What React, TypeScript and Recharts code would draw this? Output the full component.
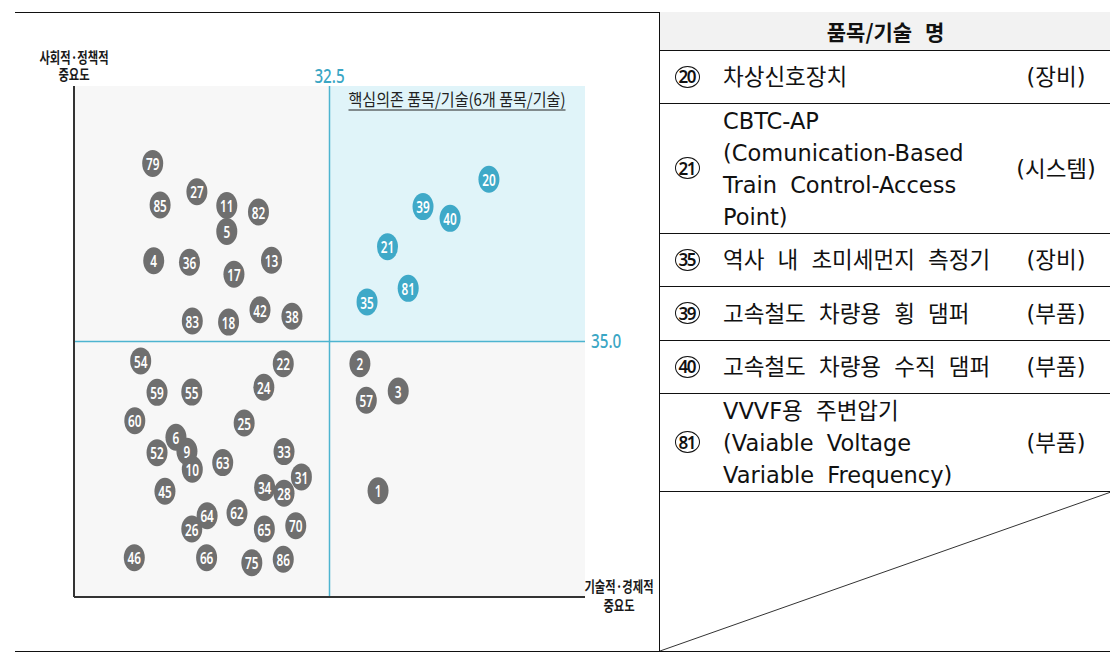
import { ScatterChart, Scatter, XAxis, YAxis, ZAxis, ReferenceArea, ReferenceLine } from 'recharts'

// item numbers and their scores (x: 기술적·경제적, y: 사회적·정책적)
const otherIds = [79, 27, 85, 11, 82, 5, 4, 36, 17, 13, 83, 18, 42, 38, 54, 22, 59, 55, 24, 60, 25, 6, 52, 9, 10, 63, 33, 31, 34, 28, 45, 26, 64, 62, 65, 70, 46, 66, 75, 86, 2, 57, 3, 1]
const otherTech = [25.58, 27.31, 25.87, 28.48, 29.72, 28.48, 25.62, 27.02, 28.76, 30.23, 27.13, 28.55, 29.78, 31.03, 25.11, 30.69, 25.75, 27.11, 29.93, 24.88, 29.16, 26.49, 25.75, 26.92, 27.13, 28.32, 30.72, 31.4, 29.96, 30.72, 26.06, 27.11, 27.71, 28.88, 29.95, 31.18, 24.86, 27.69, 29.46, 30.69, 33.69, 33.94, 35.19, 34.4]
const otherSocial = [41.97, 40.86, 40.34, 40.32, 40.07, 39.31, 38.16, 38.1, 37.63, 38.18, 35.8, 35.76, 36.24, 35.99, 34.24, 34.13, 33.01, 33.02, 33.21, 31.9, 31.81, 31.25, 30.65, 30.7, 30.0, 30.26, 30.69, 29.7, 29.29, 29.06, 29.14, 27.66, 28.18, 28.3, 27.66, 27.79, 26.54, 26.54, 26.34, 26.48, 34.13, 32.7, 33.06, 29.16]

const keyIds = [20, 39, 40, 21, 81, 35]
const keyTech = [38.74, 36.16, 37.22, 34.77, 35.58, 33.97]
const keySocial = [41.35, 40.28, 39.82, 38.71, 37.08, 36.55]

const techCut = 32.5
const socialCut = 35.0
const techDomain = [22.5, 42.5]
const socialDomain = [25, 45]

// table
const tableNumbers = [20, 21, 35, 39, 40, 81]
const tableNames = [
  ['차상신호장치'],
  ['CBTC-AP', '(Comunication-Based', 'Train Control-Access', 'Point)'],
  ['역사 내 초미세먼지 측정기'],
  ['고속철도 차량용 횡 댐퍼'],
  ['고속철도 차량용 수직 댐퍼'],
  ['VVVF용 주변압기', '(Vaiable Voltage', 'Variable Frequency)'],
]
const tableTypes = ['(장비)', '(시스템)', '(장비)', '(부품)', '(부품)', '(부품)']
const rowHeights = [53, 130, 53, 54, 53, 98]

const GRAY = '#6f6f6f'
const TEAL = '#3fa9c8'
const TEAL_LINE = '#4db4d0'
const TEAL_TEXT = '#3aa6c4'

const otherData = otherIds.map((id, i) => ({ id, x: otherTech[i], y: otherSocial[i] }))
const keyData = keyIds.map((id, i) => ({ id, x: keyTech[i], y: keySocial[i] }))

const Bubble = (props: any) => {
  const { cx, cy, payload, color } = props
  return (
    <g>
      <ellipse cx={cx} cy={cy} rx={10.5} ry={13.5} fill={color} />
      <text
        transform={`translate(${cx},${cy + 0.5}) scale(0.76,1)`}
        textAnchor="middle"
        dominantBaseline="central"
        fill="#fff"
        fontSize={15.5}
        fontWeight={600}
        fontFamily="'Noto Sans', sans-serif"
      >
        {payload.id}
      </text>
    </g>
  )
}

const condensed = "'Noto Sans CJK KR', sans-serif"

const TechCutLabel = (props: any) => {
  const { viewBox } = props
  return (
    <text
      transform={`translate(${viewBox.x},${viewBox.y - 11}) scale(0.76,1)`}
      textAnchor="middle"
      dominantBaseline="central"
      fill={TEAL_TEXT}
      fontSize={20}
      fontWeight={500}
      fontFamily="'Noto Sans', sans-serif"
    >
      {techCut.toFixed(1)}
    </text>
  )
}

const SocialCutLabel = (props: any) => {
  const { viewBox } = props
  return (
    <text
      transform={`translate(${viewBox.x + viewBox.width + 6},${viewBox.y - 1}) scale(0.76,1)`}
      textAnchor="start"
      dominantBaseline="central"
      fill={TEAL_TEXT}
      fontSize={20}
      fontWeight={500}
      fontFamily="'Noto Sans', sans-serif"
    >
      {socialCut.toFixed(1)}
    </text>
  )
}

const KeyAreaLabel = (props: any) => {
  const { viewBox } = props
  const x = viewBox.x + 19
  const y = viewBox.y + 20
  return (
    <g>
      <text x={x} y={y} fill="#222" fontSize={17} fontFamily={condensed} textLength={217} lengthAdjust="spacingAndGlyphs">
        핵심의존 품목/기술(6개 품목/기술)
      </text>
      <line x1={x} x2={x + 217} y1={y + 4} y2={y + 4} stroke="#222" strokeWidth={1} />
    </g>
  )
}

const axisTitle = (lines: string[], cx: number, top: number, gap: number) => (
  <div style={{ position: 'absolute', left: cx - 60, top, width: 120, textAlign: 'center' }}>
    {lines.map((l, i) => (
      <div
        key={i}
        style={{
          height: gap,
          lineHeight: `${gap}px`,
          fontFamily: condensed,
          fontWeight: 700,
          fontSize: 14.5,
          color: '#1a1a1a',
          transform: 'scaleX(0.78)',
          whiteSpace: 'nowrap',
        }}
      >
        {l}
      </div>
    ))}
  </div>
)

const tableFont = "'DejaVu Sans', 'Noto Sans CJK KR', sans-serif"

const CircledNumber = ({ n }: { n: number }) => (
  <div
    style={{
      position: 'absolute',
      left: 15,
      top: '50%',
      marginTop: -11.5,
      width: 23,
      height: 20,
      border: '1.3px solid #111',
      borderRadius: '50%',
      display: 'flex',
      alignItems: 'center',
      justifyContent: 'center',
      fontFamily: "'Noto Sans', sans-serif",
      fontWeight: 600,
      fontSize: 17,
      letterSpacing: -1.5,
      color: '#111',
    }}
  >
    <span style={{ marginLeft: -1.5 }}>{n}</span>
  </div>
)

const ItemTable = () => (
  <div style={{ position: 'absolute', left: 659, top: 12, width: 451, height: 639, borderLeft: '1px solid #111' }}>
    <div
      style={{
        height: 38,
        background: '#f2f2f2',
        borderBottom: '1px solid #111',
        display: 'flex',
        alignItems: 'center',
        justifyContent: 'center',
        fontFamily: "'Noto Sans CJK KR', sans-serif",
        fontWeight: 700,
        fontSize: 21,
        color: '#111',
        wordSpacing: 8,
      }}
    >
      품목/기술 명
    </div>
    {tableNumbers.map((n, i) => (
      <div key={n} style={{ position: 'relative', height: rowHeights[i] - 1, borderBottom: '1px solid #111' }}>
        <CircledNumber n={n} />
        <div
          style={{
            position: 'absolute',
            left: 63,
            top: '50%',
            transform: 'translateY(-50%)',
            fontFamily: tableFont,
            fontSize: 22.5,
            lineHeight: '32px',
            color: '#111',
            whiteSpace: 'nowrap',
            wordSpacing: 6,
          }}
        >
          {tableNames[i].map((l, j) => (
            <div key={j}>{l}</div>
          ))}
        </div>
        <div
          style={{
            position: 'absolute',
            left: 396 - 60,
            width: 120,
            textAlign: 'center',
            top: '50%',
            transform: 'translateY(-50%)',
            fontFamily: tableFont,
            fontSize: 22.5,
            lineHeight: '32px',
            color: '#111',
          }}
        >
          {tableTypes[i]}
        </div>
      </div>
    ))}
    <svg width={451} height={159} style={{ display: 'block' }}>
      <line x1={0} y1={159} x2={451} y2={0} stroke="#333" strokeWidth={1} />
    </svg>
  </div>
)

export default function App() {
  return (
    <div style={{ position: 'absolute', left: 0, top: 0, width: 1110, height: 671, background: '#fff', overflow: 'hidden' }}>
      <div style={{ position: 'absolute', left: 0, top: 0 }}>
        <ScatterChart width={659} height={671} margin={{ top: 86, right: 74, bottom: 74, left: 74 }}>
          <XAxis type="number" dataKey="x" domain={techDomain} hide />
          <YAxis type="number" dataKey="y" domain={socialDomain} hide />
          <ZAxis range={[400, 400]} />
          <ReferenceArea x1={techDomain[0]} x2={techDomain[1]} y1={socialDomain[0]} y2={socialDomain[1]} fill="#f7f7f7" fillOpacity={1} stroke="none" />
          <ReferenceArea
            x1={techCut}
            x2={techDomain[1]}
            y1={socialCut}
            y2={socialDomain[1]}
            fill="#e0f4f9"
            fillOpacity={1}
            stroke="none"
            label={KeyAreaLabel}
          />
          <ReferenceLine x={techCut} stroke={TEAL_LINE} strokeWidth={1.5} label={TechCutLabel} />
          <ReferenceLine y={socialCut} stroke={TEAL_LINE} strokeWidth={1.5} label={SocialCutLabel} />
          <ReferenceLine x={techDomain[0]} stroke="#333" strokeWidth={2} />
          <ReferenceLine y={socialDomain[0]} stroke="#333" strokeWidth={2} />
          <Scatter data={otherData} isAnimationActive={false} shape={(p: any) => <Bubble {...p} color={GRAY} />} />
          <Scatter data={keyData} isAnimationActive={false} shape={(p: any) => <Bubble {...p} color={TEAL} />} />
        </ScatterChart>
      </div>
      {axisTitle(['사회적·정책적', '중요도'], 74, 48, 17)}
      {axisTitle(['기술적·경제적', '중요도'], 619, 576, 19)}
      <div style={{ position: 'absolute', left: 15, top: 12, width: 1095, height: 1, background: '#111' }} />
      <div style={{ position: 'absolute', left: 15, top: 651, width: 1095, height: 1, background: '#111' }} />
      <ItemTable />
    </div>
  )
}
